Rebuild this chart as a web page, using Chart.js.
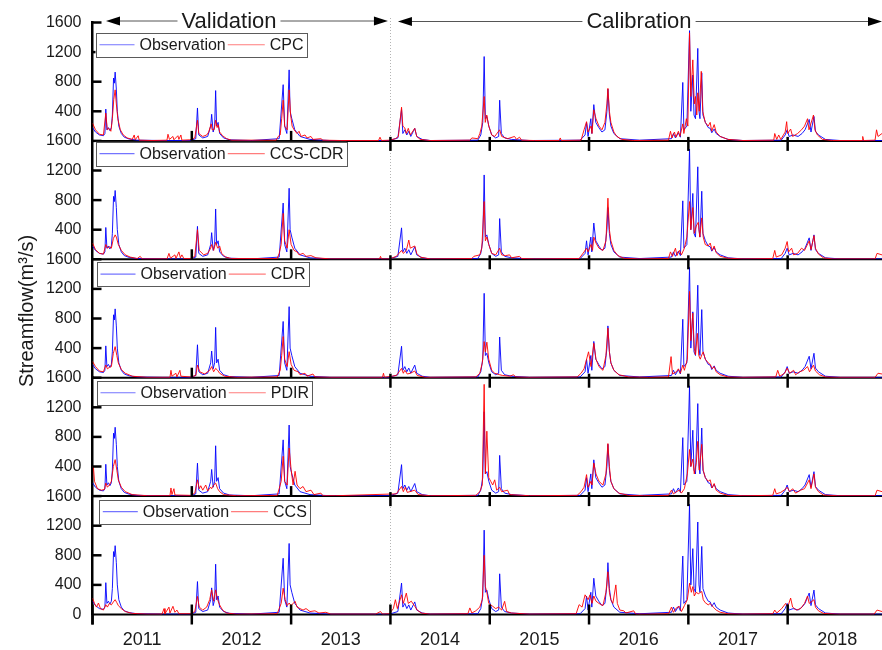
<!DOCTYPE html>
<html>
<head>
<meta charset="utf-8">
<style>
  html, body { margin: 0; padding: 0; background: #fff; }
  #wrap { width: 882px; height: 650px; }
</style>
<script src="https://cdn.jsdelivr.net/npm/chart.js@4/dist/chart.umd.min.js"></script>
</head>
<body>
<div id="wrap"><canvas id="flow" width="882" height="650"></canvas></div>
<script>
// Daily streamflow (m3/s) at the outlet, [decimal year, flow]
const years = ['2011', '2012', '2013', '2014', '2015', '2016', '2017', '2018'];
const productNames = ['CPC', 'CCS-CDR', 'CDR', 'PDIR', 'CCS'];
const splitYear = 2014;   // validation before, calibration after

const observed = [
  [2011.000,180],[2011.03,120],[2011.07,80],[2011.11,70],[2011.125,100],[2011.134,430],[2011.145,150],
  [2011.16,180],[2011.175,140],[2011.19,180],[2011.20,350],[2011.212,850],[2011.22,780],[2011.228,930],
  [2011.24,700],[2011.25,400],[2011.265,200],[2011.29,100],[2011.32,50],[2011.37,25],[2011.45,10],
  [2011.70,5],[2011.99,5],[2012.04,30],[2012.057,445],[2012.07,80],[2012.11,40],[2012.16,60],
  [2012.19,200],[2012.20,360],[2012.215,120],[2012.23,200],[2012.24,680],[2012.25,200],[2012.265,250],
  [2012.28,100],[2012.32,40],[2012.38,15],[2012.60,5],[2012.88,30],[2012.92,760],[2012.935,200],
  [2012.957,100],[2012.98,960],[2012.99,400],[2013.007,300],[2013.037,150],[2013.09,60],[2013.19,20],
  [2013.39,5],[2013.99,5],[2014.075,40],[2014.112,425],[2014.125,100],[2014.145,150],[2014.165,80],
  [2014.185,130],[2014.205,60],[2014.245,170],[2014.265,60],[2014.32,20],[2014.40,5],[2014.88,10],
  [2014.91,80],[2014.93,250],[2014.944,1140],[2014.956,300],[2014.971,330],[2014.991,200],[2015.02,80],
  [2015.06,40],[2015.09,60],[2015.10,550],[2015.117,100],[2015.15,40],[2015.22,20],[2015.40,5],
  [2015.91,10],[2015.96,80],[2015.975,250],[2015.99,60],[2016.018,300],[2016.028,100],[2016.048,490],
  [2016.068,250],[2016.098,180],[2016.13,120],[2016.16,150],[2016.18,400],[2016.19,700],[2016.205,350],
  [2016.22,200],[2016.25,100],[2016.31,30],[2016.51,10],[2016.83,30],[2016.85,100],[2016.87,40],
  [2016.90,110],[2016.92,50],[2016.944,790],[2016.955,150],[2016.985,200],[2017.012,1490],[2017.025,400],
  [2017.045,890],[2017.057,350],[2017.072,300],[2017.095,1250],[2017.107,400],[2017.117,300],[2017.135,920],
  [2017.147,350],[2017.172,250],[2017.20,180],[2017.22,170],[2017.236,110],[2017.26,160],[2017.28,100],
  [2017.32,60],[2017.40,20],[2017.55,5],[2017.935,10],[2017.975,80],[2017.995,150],[2018.015,60],
  [2018.055,80],[2018.105,60],[2018.145,100],[2018.175,150],[2018.217,290],[2018.235,120],[2018.265,330],
  [2018.28,130],[2018.31,80],[2018.38,20],[2018.53,5],[2018.95,5]
];

const cpc = [
  [2011.000,240],[2011.03,150],[2011.07,90],[2011.11,80],[2011.134,375],[2011.149,150],[2011.165,170],
  [2011.185,130],[2011.20,300],[2011.214,560],[2011.228,690],[2011.24,500],[2011.255,300],[2011.28,150],
  [2011.31,80],[2011.35,40],[2011.40,20],[2011.42,80],[2011.43,15],[2011.46,70],[2011.47,10],[2011.60,5],
  [2011.75,10],[2011.76,90],[2011.775,20],[2011.81,60],[2011.82,15],[2011.86,70],[2011.87,20],[2011.89,80],
  [2011.90,10],[2011.98,15],[2012.03,40],[2012.057,280],[2012.07,100],[2012.11,60],[2012.15,80],[2012.17,120],
  [2012.195,230],[2012.205,150],[2012.225,150],[2012.24,280],[2012.255,180],[2012.265,220],[2012.28,120],
  [2012.31,70],[2012.35,30],[2012.40,10],[2012.85,10],[2012.87,60],[2012.89,80],[2012.905,300],[2012.92,550],
  [2012.935,200],[2012.96,150],[2012.98,690],[2012.995,350],[2013.01,200],[2013.03,150],[2013.06,100],
  [2013.08,130],[2013.10,60],[2013.14,80],[2013.16,40],[2013.20,60],[2013.22,20],[2013.30,30],[2013.32,10],
  [2013.50,5],[2013.88,5],[2013.895,50],[2013.91,5],[2013.99,10],[2014.05,30],[2014.08,60],[2014.112,455],
  [2014.125,200],[2014.145,175],[2014.16,100],[2014.18,170],[2014.20,80],[2014.245,170],[2014.265,60],
  [2014.30,20],[2014.40,5],[2014.80,10],[2014.82,40],[2014.88,30],[2014.90,100],[2014.92,200],[2014.944,600],
  [2014.955,250],[2014.97,350],[2014.99,200],[2015.02,80],[2015.05,60],[2015.10,150],[2015.12,60],
  [2015.18,30],[2015.25,60],[2015.27,20],[2015.30,50],[2015.32,10],[2015.45,5],[2015.70,5],[2015.71,40],
  [2015.72,5],[2015.92,10],[2015.95,150],[2015.975,260],[2015.99,120],[2016.02,200],[2016.03,100],
  [2016.048,420],[2016.07,300],[2016.10,200],[2016.13,150],[2016.16,250],[2016.18,500],[2016.19,710],
  [2016.205,400],[2016.22,250],[2016.25,120],[2016.28,60],[2016.33,20],[2016.45,5],[2016.80,10],
  [2016.82,130],[2016.835,40],[2016.86,120],[2016.875,50],[2016.90,130],[2016.915,60],[2016.944,230],
  [2016.955,100],[2016.98,300],[2016.995,200],[2017.012,1460],[2017.025,600],[2017.045,1095],[2017.06,500],
  [2017.072,600],[2017.085,350],[2017.095,650],[2017.11,400],[2017.13,940],[2017.145,400],[2017.17,250],
  [2017.20,200],[2017.22,250],[2017.235,130],[2017.26,220],[2017.28,120],[2017.32,60],[2017.40,20],
  [2017.55,5],[2017.86,10],[2017.87,100],[2017.89,20],[2017.91,80],[2017.93,20],[2017.975,120],[2017.99,260],
  [2018.00,100],[2018.03,160],[2018.05,60],[2018.10,100],[2018.14,150],[2018.17,200],[2018.20,300],
  [2018.215,150],[2018.26,350],[2018.275,150],[2018.30,80],[2018.35,20],[2018.45,5],[2018.75,5],
  [2018.756,60],[2018.765,5],[2018.88,10],[2018.895,150],[2018.91,60],[2018.95,100]
];

const ccsCdr = [
  [2011.000,220],[2011.03,130],[2011.07,80],[2011.11,70],[2011.134,200],[2011.15,150],[2011.17,170],
  [2011.19,150],[2011.21,280],[2011.228,330],[2011.24,300],[2011.26,200],[2011.29,120],[2011.33,60],
  [2011.38,30],[2011.45,10],[2011.48,40],[2011.50,5],[2011.75,5],[2011.77,80],[2011.785,15],[2011.83,60],
  [2011.84,10],[2011.87,100],[2011.885,20],[2011.90,60],[2011.92,10],[2011.99,10],[2012.03,40],
  [2012.057,400],[2012.075,120],[2012.12,60],[2012.16,80],[2012.19,150],[2012.20,200],[2012.22,120],
  [2012.24,230],[2012.26,150],[2012.28,180],[2012.30,80],[2012.34,30],[2012.40,10],[2012.86,10],
  [2012.88,80],[2012.90,200],[2012.92,620],[2012.935,250],[2012.96,150],[2012.98,400],[2013.00,200],
  [2013.03,120],[2013.06,100],[2013.08,60],[2013.12,80],[2013.15,40],[2013.20,50],[2013.25,20],[2013.40,5],
  [2013.89,5],[2013.90,40],[2013.91,5],[2013.99,5],[2014.06,40],[2014.112,120],[2014.13,80],[2014.16,120],
  [2014.185,260],[2014.20,150],[2014.245,180],[2014.265,80],[2014.30,30],[2014.40,5],[2014.82,10],
  [2014.84,40],[2014.90,60],[2014.92,150],[2014.944,780],[2014.956,250],[2014.971,300],[2014.99,200],
  [2015.02,80],[2015.06,60],[2015.10,150],[2015.12,60],[2015.16,50],[2015.20,60],[2015.22,20],[2015.30,40],
  [2015.32,10],[2015.45,5],[2015.90,10],[2015.95,100],[2015.975,150],[2015.99,100],[2016.02,200],
  [2016.035,120],[2016.048,300],[2016.07,220],[2016.10,150],[2016.14,120],[2016.17,250],[2016.19,826],
  [2016.205,400],[2016.22,250],[2016.25,120],[2016.29,50],[2016.35,15],[2016.50,5],[2016.80,10],
  [2016.82,100],[2016.84,40],[2016.87,150],[2016.885,50],[2016.91,120],[2016.93,60],[2016.96,150],
  [2016.985,300],[2017.012,780],[2017.025,400],[2017.045,700],[2017.06,350],[2017.08,450],[2017.10,500],
  [2017.115,300],[2017.135,560],[2017.15,300],[2017.17,200],[2017.20,180],[2017.22,220],[2017.24,120],
  [2017.26,180],[2017.28,90],[2017.32,40],[2017.40,15],[2017.55,5],[2017.85,10],[2017.87,120],[2017.885,30],
  [2017.94,60],[2017.975,150],[2017.995,240],[2018.01,100],[2018.04,150],[2018.06,60],[2018.10,80],
  [2018.14,150],[2018.17,120],[2018.217,250],[2018.235,130],[2018.265,320],[2018.28,150],[2018.31,70],
  [2018.36,20],[2018.45,5],[2018.88,5],[2018.90,80],[2018.95,60]
];

const cdr = [
  [2011.000,220],[2011.03,150],[2011.07,90],[2011.11,80],[2011.134,172],[2011.15,120],[2011.17,140],
  [2011.19,150],[2011.21,330],[2011.228,420],[2011.245,300],[2011.26,200],[2011.29,110],[2011.33,60],
  [2011.40,20],[2011.55,5],[2011.78,5],[2011.79,100],[2011.80,20],[2011.84,60],[2011.85,10],[2011.88,100],
  [2011.89,20],[2011.99,10],[2012.04,30],[2012.057,170],[2012.08,80],[2012.13,50],[2012.18,100],[2012.20,150],
  [2012.22,80],[2012.24,126],[2012.26,100],[2012.28,60],[2012.33,20],[2012.45,5],[2012.86,10],[2012.89,100],
  [2012.905,300],[2012.92,556],[2012.935,250],[2012.96,150],[2012.98,352],[2013.00,180],[2013.03,100],
  [2013.07,80],[2013.09,40],[2013.14,60],[2013.16,20],[2013.22,50],[2013.24,10],[2013.40,5],[2013.92,5],
  [2013.93,60],[2013.94,5],[2014.06,30],[2014.112,126],[2014.13,60],[2014.145,100],[2014.17,50],[2014.20,60],
  [2014.245,90],[2014.27,30],[2014.35,5],[2014.86,10],[2014.90,60],[2014.925,200],[2014.944,488],
  [2014.956,350],[2014.971,480],[2014.99,250],[2015.02,100],[2015.05,60],[2015.10,40],[2015.13,30],
  [2015.20,20],[2015.24,40],[2015.26,10],[2015.40,5],[2015.88,10],[2015.92,60],[2015.95,120],[2015.995,350],
  [2016.02,150],[2016.048,466],[2016.07,250],[2016.10,150],[2016.14,100],[2016.17,300],[2016.19,670],
  [2016.205,350],[2016.22,200],[2016.25,100],[2016.30,40],[2016.40,10],[2016.60,5],[2016.80,10],
  [2016.826,285],[2016.84,50],[2016.88,80],[2016.90,120],[2016.92,60],[2016.944,170],[2016.96,100],
  [2016.99,250],[2017.012,1166],[2017.025,500],[2017.045,872],[2017.06,400],[2017.072,307],[2017.09,600],
  [2017.105,300],[2017.12,250],[2017.135,307],[2017.15,350],[2017.17,250],[2017.20,200],[2017.22,180],
  [2017.24,120],[2017.26,150],[2017.28,80],[2017.32,40],[2017.40,10],[2017.55,5],[2017.88,10],[2017.90,100],
  [2017.92,20],[2017.97,60],[2017.995,130],[2018.02,60],[2018.06,100],[2018.08,40],[2018.12,80],[2018.16,100],
  [2018.20,150],[2018.22,80],[2018.26,170],[2018.28,90],[2018.32,40],[2018.38,10],[2018.50,5],[2018.88,5],
  [2018.91,60],[2018.95,50]
];

const pdir = [
  [2011.000,400],[2011.01,380],[2011.02,200],[2011.05,100],[2011.09,80],[2011.12,90],[2011.134,176],
  [2011.15,120],[2011.17,150],[2011.19,200],[2011.21,400],[2011.228,493],[2011.245,350],[2011.26,220],
  [2011.29,120],[2011.33,60],[2011.40,20],[2011.55,5],[2011.78,5],[2011.79,110],[2011.80,20],[2011.82,100],
  [2011.83,15],[2011.99,10],[2012.03,40],[2012.057,220],[2012.075,100],[2012.09,140],[2012.11,80],
  [2012.14,150],[2012.16,70],[2012.19,120],[2012.20,100],[2012.22,150],[2012.24,176],[2012.26,100],
  [2012.28,60],[2012.32,20],[2012.45,5],[2012.86,10],[2012.88,100],[2012.90,200],[2012.92,538],[2012.935,200],
  [2012.96,150],[2012.98,650],[2013.00,357],[2013.02,150],[2013.04,335],[2013.06,150],[2013.09,100],
  [2013.12,130],[2013.15,60],[2013.20,80],[2013.23,20],[2013.30,40],[2013.32,5],[2013.45,5],[2014.06,30],
  [2014.112,131],[2014.13,60],[2014.15,120],[2014.17,50],[2014.245,80],[2014.28,20],[2014.40,5],[2014.86,10],
  [2014.90,60],[2014.925,150],[2014.944,1510],[2014.956,300],[2014.971,877],[2014.99,250],[2015.01,200],
  [2015.03,150],[2015.05,220],[2015.07,80],[2015.10,120],[2015.12,60],[2015.18,80],[2015.20,20],[2015.40,5],
  [2015.88,10],[2015.92,60],[2015.95,120],[2015.975,290],[2015.99,120],[2016.02,200],[2016.03,150],
  [2016.048,447],[2016.07,300],[2016.10,200],[2016.14,150],[2016.17,300],[2016.19,710],[2016.205,400],
  [2016.22,200],[2016.25,100],[2016.30,40],[2016.40,10],[2016.55,5],[2016.80,10],[2016.83,80],[2016.85,30],
  [2016.88,60],[2016.91,80],[2016.93,40],[2016.96,100],[2016.99,300],[2017.012,630],[2017.025,400],
  [2017.045,500],[2017.06,300],[2017.08,450],[2017.095,740],[2017.11,350],[2017.135,700],[2017.15,350],
  [2017.17,250],[2017.20,200],[2017.22,220],[2017.24,110],[2017.26,170],[2017.28,80],[2017.32,40],
  [2017.40,10],[2017.55,5],[2017.85,10],[2017.87,100],[2017.885,30],[2017.93,50],[2017.975,90],[2017.995,120],
  [2018.02,60],[2018.05,100],[2018.08,40],[2018.13,80],[2018.17,100],[2018.217,220],[2018.235,100],
  [2018.265,300],[2018.28,120],[2018.31,60],[2018.36,15],[2018.50,5],[2018.88,5],[2018.90,80],[2018.95,60]
];

const ccs = [
  [2011.000,222],[2011.02,150],[2011.04,100],[2011.06,155],[2011.08,80],[2011.11,60],[2011.134,133],
  [2011.15,100],[2011.17,150],[2011.19,130],[2011.21,170],[2011.228,200],[2011.245,160],[2011.26,120],
  [2011.29,80],[2011.33,40],[2011.40,15],[2011.55,5],[2011.70,5],[2011.72,80],[2011.73,10],[2011.77,100],
  [2011.78,20],[2011.81,111],[2011.83,30],[2011.85,60],[2011.87,10],[2011.99,10],[2012.03,40],[2012.057,244],
  [2012.075,100],[2012.11,60],[2012.15,100],[2012.18,200],[2012.20,333],[2012.22,180],[2012.24,333],
  [2012.26,200],[2012.28,130],[2012.31,60],[2012.35,20],[2012.45,5],[2012.86,10],[2012.88,80],[2012.90,150],
  [2012.92,355],[2012.94,200],[2012.96,120],[2012.98,155],[2013.00,120],[2013.04,178],[2013.06,100],
  [2013.09,80],[2013.12,60],[2013.15,80],[2013.19,40],[2013.24,50],[2013.28,20],[2013.35,30],[2013.40,5],
  [2013.85,5],[2013.90,40],[2013.92,5],[2013.99,10],[2014.03,80],[2014.05,200],[2014.07,80],[2014.112,266],
  [2014.13,150],[2014.16,289],[2014.18,150],[2014.21,180],[2014.245,111],[2014.27,60],[2014.31,20],
  [2014.40,5],[2014.78,10],[2014.80,89],[2014.82,20],[2014.86,50],[2014.90,100],[2014.925,200],[2014.944,800],
  [2014.956,377],[2014.971,300],[2014.99,150],[2015.03,111],[2015.06,80],[2015.09,100],[2015.12,60],
  [2015.15,178],[2015.17,40],[2015.22,20],[2015.40,5],[2015.87,10],[2015.90,133],[2015.93,100],[2015.96,266],
  [2015.99,200],[2016.01,266],[2016.03,150],[2016.048,250],[2016.07,180],[2016.10,150],[2016.14,120],
  [2016.17,300],[2016.19,577],[2016.205,300],[2016.22,200],[2016.24,150],[2016.27,400],[2016.285,150],
  [2016.31,60],[2016.35,50],[2016.37,20],[2016.45,50],[2016.47,5],[2016.60,5],[2016.80,10],[2016.83,100],
  [2016.85,30],[2016.88,90],[2016.91,110],[2016.93,40],[2016.96,120],[2016.99,200],[2017.012,422],
  [2017.03,300],[2017.045,377],[2017.06,250],[2017.08,300],[2017.10,280],[2017.135,311],[2017.15,200],
  [2017.17,160],[2017.20,130],[2017.22,150],[2017.25,100],[2017.28,60],[2017.32,30],[2017.40,10],[2017.55,5],
  [2017.85,10],[2017.87,60],[2017.89,20],[2017.94,80],[2017.98,150],[2018.00,100],[2018.03,222],[2018.05,100],
  [2018.09,60],[2018.13,80],[2018.17,150],[2018.20,250],[2018.217,150],[2018.265,200],[2018.28,100],
  [2018.31,50],[2018.36,15],[2018.50,5],[2018.87,5],[2018.90,60],[2018.95,40]
];

const productSeries = [cpc, ccsCdr, cdr, pdir, ccs];

// ---------------------------------------------------------------------------
const FONT = "'Liberation Sans', Arial, Helvetica, sans-serif";
const TEXT = '#1a1a1a';
const OBS_COLOR = 'rgba(0,0,255,0.9)';
const SIM_COLOR = 'rgba(255,0,0,0.9)';
const panelIds = productNames.map((_, i) => 'y' + i);   // y0 = top panel
const lastPanel = panelIds.length - 1;
const toXY = rows => rows.map(([x, y]) => ({ x, y }));

const datasets = [];
productSeries.forEach((series, i) => {
  datasets.push({
    label: 'Observation', data: toXY(observed), yAxisID: panelIds[i],
    borderColor: OBS_COLOR, borderWidth: 1, pointRadius: 0, tension: 0, order: 1
  });
  datasets.push({
    label: productNames[i], data: toXY(series), yAxisID: panelIds[i],
    borderColor: SIM_COLOR, borderWidth: 1, pointRadius: 0, tension: 0, order: 0
  });
});

// stacked axes are laid out bottom-up, so register the bottom panel first
const yScales = {};
[...panelIds].reverse().forEach(id => {
  const i = panelIds.indexOf(id);
  yScales[id] = {
    type: 'linear', position: 'left', stack: 'flow', stackWeight: 1,
    min: 0, max: 1600,
    grid: { display: false, drawTicks: false },
    border: { display: true, color: '#000', width: 2.5 },
    ticks: {
      stepSize: 400, padding: 11, color: TEXT, autoSkip: false,
      font: { family: FONT, size: 16 },
      callback: v => (v === 0 && i < lastPanel) ? '' : String(v)
    },
    afterFit: s => { s.width = 92.5; }
  };
});

const labelYears = years.map(y => Number(y) + 0.5);

// Panel frames, year ticks, legends, period arrows and the axis title
const panelDecor = {
  id: 'panelDecor',
  beforeDatasetsDraw(chart) {
    const { ctx, chartArea, scales } = chart;
    const xs = scales.x;
    ctx.save();
    const xd = Math.round(xs.getPixelForValue(splitYear)) + 0.5;
    ctx.strokeStyle = '#b4b4b4';
    ctx.lineWidth = 1;
    ctx.setLineDash([1, 2]);
    ctx.beginPath(); ctx.moveTo(xd, 18); ctx.lineTo(xd, chartArea.bottom); ctx.stroke();
    ctx.setLineDash([]);
    ctx.strokeStyle = '#000';
    ctx.lineWidth = 2;
    panelIds.forEach(id => {
      const y = scales[id].getPixelForValue(0);
      ctx.beginPath(); ctx.moveTo(chartArea.left, y); ctx.lineTo(chartArea.right, y); ctx.stroke();
    });
    ctx.restore();
  },
  afterDraw(chart) {
    const { ctx, chartArea, scales } = chart;
    const xs = scales.x;
    ctx.save();

    // year boundary ticks and inward flow ticks
    ctx.strokeStyle = '#000';
    ctx.lineWidth = 2.5;
    panelIds.forEach((id, i) => {
      const ys = scales[id];
      const base = ys.getPixelForValue(0);
      for (let yr = Number(years[0]); yr <= Number(years[years.length - 1]); yr++) {
        const x = xs.getPixelForValue(yr);
        let a, b;
        if (i === lastPanel) { a = base - 10; b = base + 10; }
        else if (yr === Number(years[0])) { continue; }
        else if (yr < splitYear) { a = base - 10; b = base; }
        else { a = base - 4; b = base + 10; }
        ctx.beginPath(); ctx.moveTo(x, a); ctx.lineTo(x, b); ctx.stroke();
      }
      [400, 800, 1200, 1600].forEach(v => {
        const y = ys.getPixelForValue(v);
        ctx.beginPath(); ctx.moveTo(chartArea.left, y); ctx.lineTo(chartArea.left + 9, y); ctx.stroke();
      });
    });

    // legends
    const legendTop = [10.5, 1, 3, 3.3, 3.8];
    const legendLeft = [3, 3, 4, 4, 6.3];
    ctx.font = '16px ' + FONT;
    ctx.textBaseline = 'middle';
    ctx.textAlign = 'left';
    panelIds.forEach((id, i) => {
      const top = scales[id].top + legendTop[i];
      const left = chartArea.left + legendLeft[i];
      const h = 23.5;
      const wObs = ctx.measureText('Observation').width;
      const wSim = ctx.measureText(productNames[i]).width;
      const w = 4 + 35 + 5 + wObs + 2 + 37 + 5 + wSim + 3;
      ctx.fillStyle = '#fff';
      ctx.fillRect(left, top, w, h);
      ctx.strokeStyle = '#5a5a5a';
      ctx.lineWidth = 1;
      ctx.strokeRect(Math.round(left) + 0.5, Math.round(top) + 0.5, Math.round(w), Math.round(h));
      const cy = top + h / 2;
      let x = left + 4;
      ctx.lineWidth = 1.2;
      ctx.strokeStyle = 'rgba(70,70,255,0.75)';
      ctx.beginPath(); ctx.moveTo(x, cy); ctx.lineTo(x + 35, cy); ctx.stroke();
      x += 40;
      ctx.fillStyle = TEXT;
      ctx.fillText('Observation', x, cy + 0.5);
      x += wObs + 2;
      ctx.strokeStyle = 'rgba(255,80,80,0.75)';
      ctx.beginPath(); ctx.moveTo(x, cy); ctx.lineTo(x + 37, cy); ctx.stroke();
      x += 42;
      ctx.fillText(productNames[i], x, cy + 0.5);
    });

    // left axis continues past the bottom panel
    ctx.strokeStyle = '#000';
    ctx.lineWidth = 2.5;
    ctx.beginPath(); ctx.moveTo(chartArea.left, chartArea.bottom); ctx.lineTo(chartArea.left, chartArea.bottom + 10); ctx.stroke();

    // period arrows
    const arrow = (x0, x1, y, label, cx) => {
      ctx.font = '22px ' + FONT;
      const tw = ctx.measureText(label).width;
      ctx.strokeStyle = '#555';
      ctx.lineWidth = 1;
      ctx.beginPath();
      ctx.moveTo(x0 + 10, y); ctx.lineTo(cx - tw / 2 - 4, y);
      ctx.moveTo(cx + tw / 2 + 4, y); ctx.lineTo(x1 - 10, y);
      ctx.stroke();
      ctx.fillStyle = '#000';
      ctx.beginPath(); ctx.moveTo(x0, y); ctx.lineTo(x0 + 14, y - 4.5); ctx.lineTo(x0 + 14, y + 4.5); ctx.closePath(); ctx.fill();
      ctx.beginPath(); ctx.moveTo(x1, y); ctx.lineTo(x1 - 14, y - 4.5); ctx.lineTo(x1 - 14, y + 4.5); ctx.closePath(); ctx.fill();
      ctx.fillStyle = TEXT;
      ctx.textAlign = 'center';
      ctx.textBaseline = 'alphabetic';
      ctx.fillText(label, cx, 28.3);
    };
    const xSplit = xs.getPixelForValue(splitYear);
    arrow(chartArea.left + 13.5, xSplit - 2.5, 21, 'Validation', 229);
    arrow(xSplit + 7.5, chartArea.right, 21.5, 'Calibration', 639);

    // axis title
    ctx.translate(27, 311);
    ctx.rotate(-Math.PI / 2);
    ctx.font = '20px ' + FONT;
    ctx.fillStyle = TEXT;
    ctx.textAlign = 'center';
    ctx.textBaseline = 'middle';
    ctx.fillText('Streamflow(m\u00B3/s)', 0, 0);
    ctx.restore();
  }
};

new Chart(document.getElementById('flow'), {
  type: 'line',
  data: { datasets },
  options: {
    responsive: false,
    animation: false,
    devicePixelRatio: 1,
    parsing: false,
    layout: { padding: { top: 22.5, right: 0, bottom: 0, left: 0 } },
    plugins: { legend: { display: false }, tooltip: { enabled: false } },
    scales: {
      x: {
        type: 'linear', position: 'bottom',
        min: Number(years[0]), max: 2018.95,
        grid: { display: false, drawTicks: false },
        border: { display: false },
        afterBuildTicks: s => { s.ticks = labelYears.map(v => ({ value: v })); },
        ticks: {
          autoSkip: false, maxRotation: 0, padding: 15, color: TEXT,
          font: { family: FONT, size: 18 },
          callback: v => String(Math.floor(v))
        },
        afterFit: s => { s.height = 35.5; }
      },
      ...yScales
    }
  },
  plugins: [panelDecor]
});
</script>
</body>
</html>
